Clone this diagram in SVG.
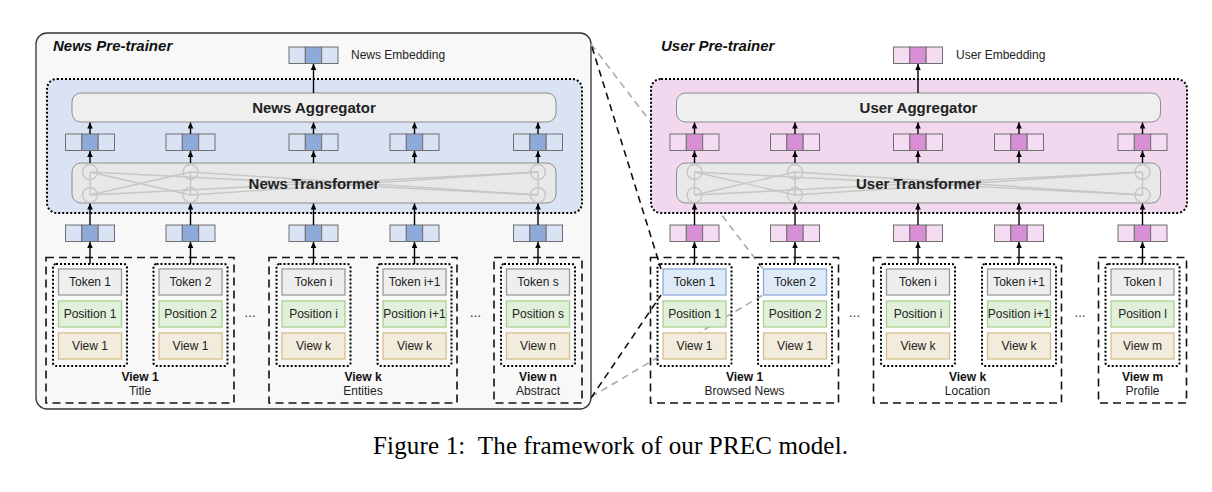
<svg xmlns="http://www.w3.org/2000/svg" xmlns:xlink="http://www.w3.org/1999/xlink" width="1212" height="492" viewBox="0 0 1212 492">
<style>
text{font-family:"Liberation Sans",Arial,sans-serif;fill:#222}
.t12{font-size:12px;text-anchor:middle}
.lab{font-size:12px}
.b15{font-size:15px;font-weight:bold;text-anchor:middle}
.ttl{font-size:15px;font-weight:bold;font-style:italic;fill:#111}
.vl{font-size:12px;font-weight:bold;text-anchor:middle;fill:#111}
.panel{fill:#f8f8f8;stroke:#333;stroke-width:1.3}
.reg{stroke:#000;stroke-width:2;stroke-dasharray:2 2}
.blue{fill:#dae3f3}
.pink{fill:#f2d8ee}
.agg{fill:#efefef;stroke:#8c8c8c;stroke-width:1}
.trans{fill:#e8e8e8;stroke:#8c8c8c;stroke-width:1}
.vb{fill:#dae3f3;stroke:#6f6f6f;stroke-width:1}
.vbm{fill:#8eaadb;stroke:#6f6f6f;stroke-width:1}
.vp{fill:#f4dcf2;stroke:#6f6f6f;stroke-width:1}
.vpm{fill:#d98fd6;stroke:#6f6f6f;stroke-width:1}
.tok{fill:#eeeeee;stroke:#9a9a9a;stroke-width:1.3}
.tokb{fill:#deebf7;stroke:#8faadc;stroke-width:1.3}
.pos{fill:#e2efda;stroke:#a9d18e;stroke-width:1.3}
.view{fill:#f2ecdc;stroke:#d6c08a;stroke-width:1.3}
.inner{fill:none;stroke:#000;stroke-width:2;stroke-dasharray:2 2}
.vbox{fill:none;stroke:#111;stroke-width:1.6;stroke-dasharray:8 5}
.tl{stroke:#c6c6c6;stroke-width:1.4;fill:none}
.arr{stroke:#000;stroke-width:1.4;fill:none;marker-end:url(#ah)}
.gd{stroke:#aaaaaa;stroke-width:1.6;stroke-dasharray:7 5;fill:none}
.bd{stroke:#111;stroke-width:1.6;stroke-dasharray:7 5;fill:none}
</style>
<defs>
<marker id="ah" markerUnits="userSpaceOnUse" markerWidth="7" markerHeight="7" refX="6" refY="3" orient="auto">
<path d="M0,0.2 L6,3 L0,5.8 z" fill="#000"/>
</marker>
<g id="vecB"><rect x="0" y="0" width="16.33" height="16.5" class="vb"/><rect x="16.33" y="0" width="16.33" height="16.5" class="vbm"/><rect x="32.67" y="0" width="16.33" height="16.5" class="vb"/></g>
<g id="vecP"><rect x="0" y="0" width="16.33" height="16.5" class="vp"/><rect x="16.33" y="0" width="16.33" height="16.5" class="vpm"/><rect x="32.67" y="0" width="16.33" height="16.5" class="vp"/></g>
</defs>
<rect width="1212" height="492" fill="#ffffff"/>

<g id="news-pretrainer-panel">
<rect x="36" y="33" width="555" height="376" rx="11" class="panel"/>
<text x="53" y="51" class="ttl">News Pre-trainer</text>
</g>

<g id="zoom-lines">
<line x1="591" y1="44" x2="763" y2="269" class="gd"/>
<line x1="591" y1="397" x2="763" y2="295" class="gd"/>
<line x1="592" y1="47" x2="661" y2="269" class="bd"/>
<line x1="591" y1="398" x2="661" y2="295" class="bd"/>
</g>

<g id="user-title"><text x="661" y="51" class="ttl">User Pre-trainer</text></g>

<g id="news-encoder-region"><rect x="47" y="79" width="535" height="134" rx="10" class="reg blue"/></g>
<g id="user-encoder-region"><rect x="651" y="79" width="536" height="134" rx="10" class="reg pink"/></g>

<g id="news-embedding">
<use xlink:href="#vecB" x="289" y="47"/>
<text x="351" y="59.3" class="lab">News Embedding</text>
</g>
<g id="user-embedding">
<use xlink:href="#vecP" x="893.5" y="47"/>
<text x="956" y="59.3" class="lab">User Embedding</text>
</g>

<g id="news-aggregator">
<rect x="72" y="93" width="484" height="29" rx="9" class="agg"/>
<text x="314" y="113.4" class="b15">News Aggregator</text>
</g>
<g id="user-aggregator">
<rect x="676.5" y="93" width="484" height="29" rx="9" class="agg"/>
<text x="918.5" y="113.4" class="b15">User Aggregator</text>
</g>

<g id="news-transformer">
<rect x="72" y="163" width="484" height="40" rx="9" class="trans"/>
<g class="tl">
<line x1="90" y1="195" x2="90" y2="172"/><line x1="190.5" y1="195" x2="190.5" y2="172"/><line x1="538" y1="195" x2="538" y2="172"/>
<line x1="90" y1="195" x2="190.5" y2="172"/><line x1="90" y1="195" x2="538" y2="172"/>
<line x1="190.5" y1="195" x2="90" y2="172"/><line x1="190.5" y1="195" x2="538" y2="172"/>
<line x1="538" y1="195" x2="90" y2="172"/><line x1="538" y1="195" x2="190.5" y2="172"/>
<circle cx="90" cy="172" r="7.5"/><circle cx="90" cy="195" r="7.5"/>
<circle cx="190.5" cy="172" r="7.5"/><circle cx="190.5" cy="195" r="7.5"/>
<circle cx="538" cy="172" r="7.5"/><circle cx="538" cy="195" r="7.5"/>
</g>
<text x="314" y="188.5" class="b15">News Transformer</text>
</g>
<g id="user-transformer">
<rect x="676.5" y="163" width="484" height="40" rx="9" class="trans"/>
<g class="tl">
<line x1="694.5" y1="195" x2="694.5" y2="172"/><line x1="795" y1="195" x2="795" y2="172"/><line x1="1142.5" y1="195" x2="1142.5" y2="172"/>
<line x1="694.5" y1="195" x2="795" y2="172"/><line x1="694.5" y1="195" x2="1142.5" y2="172"/>
<line x1="795" y1="195" x2="694.5" y2="172"/><line x1="795" y1="195" x2="1142.5" y2="172"/>
<line x1="1142.5" y1="195" x2="694.5" y2="172"/><line x1="1142.5" y1="195" x2="795" y2="172"/>
<circle cx="694.5" cy="172" r="7.5"/><circle cx="694.5" cy="195" r="7.5"/>
<circle cx="795" cy="172" r="7.5"/><circle cx="795" cy="195" r="7.5"/>
<circle cx="1142.5" cy="172" r="7.5"/><circle cx="1142.5" cy="195" r="7.5"/>
</g>
<text x="918.5" y="188.5" class="b15">User Transformer</text>
</g>

<g id="news-hidden-vectors">
<use xlink:href="#vecB" x="65.5" y="134"/><use xlink:href="#vecB" x="166" y="134"/><use xlink:href="#vecB" x="289" y="134"/><use xlink:href="#vecB" x="390" y="134"/><use xlink:href="#vecB" x="513.5" y="134"/>
</g>
<g id="news-input-vectors">
<use xlink:href="#vecB" x="65.5" y="225"/><use xlink:href="#vecB" x="166" y="225"/><use xlink:href="#vecB" x="289" y="225"/><use xlink:href="#vecB" x="390" y="225"/><use xlink:href="#vecB" x="513.5" y="225"/>
</g>
<g id="user-hidden-vectors">
<use xlink:href="#vecP" x="670" y="134"/><use xlink:href="#vecP" x="770.5" y="134"/><use xlink:href="#vecP" x="893.5" y="134"/><use xlink:href="#vecP" x="994.5" y="134"/><use xlink:href="#vecP" x="1118" y="134"/>
</g>
<g id="user-input-vectors">
<use xlink:href="#vecP" x="670" y="225"/><use xlink:href="#vecP" x="770.5" y="225"/><use xlink:href="#vecP" x="893.5" y="225"/><use xlink:href="#vecP" x="994.5" y="225"/><use xlink:href="#vecP" x="1118" y="225"/>
</g>

<g id="news-view1">
<rect x="46" y="257.5" width="188" height="145.5" class="vbox"/>
<text x="140" y="381" class="vl">View 1</text><text x="140" y="394.5" class="t12">Title</text>
</g>
<g id="news-viewk">
<rect x="269" y="257.5" width="188" height="145.5" class="vbox"/>
<text x="363" y="381" class="vl">View k</text><text x="363" y="394.5" class="t12">Entities</text>
</g>
<g id="news-viewn">
<rect x="494" y="257.5" width="88" height="145.5" class="vbox"/>
<text x="538" y="381" class="vl">View n</text><text x="538" y="394.5" class="t12">Abstract</text>
</g>
<g id="news-dots"><text x="250" y="317" class="t12">…</text><text x="475.5" y="317" class="t12">…</text></g>

<g id="news-token-1">
<rect x="53" y="264" width="74" height="102" rx="3" class="inner"/>
<rect x="58.5" y="269" width="63" height="26" class="tok"/><text x="90" y="286.3" class="t12">Token 1</text>
<rect x="58.5" y="301" width="63" height="26" class="pos"/><text x="90" y="318.3" class="t12">Position 1</text>
<rect x="58.5" y="333" width="63" height="26" class="view"/><text x="90" y="350.3" class="t12">View 1</text>
</g>
<g id="news-token-2">
<rect x="153.5" y="264" width="74" height="102" rx="3" class="inner"/>
<rect x="159" y="269" width="63" height="26" class="tok"/><text x="190.5" y="286.3" class="t12">Token 2</text>
<rect x="159" y="301" width="63" height="26" class="pos"/><text x="190.5" y="318.3" class="t12">Position 2</text>
<rect x="159" y="333" width="63" height="26" class="view"/><text x="190.5" y="350.3" class="t12">View 1</text>
</g>
<g id="news-token-i">
<rect x="276.5" y="264" width="74" height="102" rx="3" class="inner"/>
<rect x="282" y="269" width="63" height="26" class="tok"/><text x="313.5" y="286.3" class="t12">Token i</text>
<rect x="282" y="301" width="63" height="26" class="pos"/><text x="313.5" y="318.3" class="t12">Position i</text>
<rect x="282" y="333" width="63" height="26" class="view"/><text x="313.5" y="350.3" class="t12">View k</text>
</g>
<g id="news-token-i1">
<rect x="377.5" y="264" width="74" height="102" rx="3" class="inner"/>
<rect x="383" y="269" width="63" height="26" class="tok"/><text x="414.5" y="286.3" class="t12">Token i+1</text>
<rect x="383" y="301" width="63" height="26" class="pos"/><text x="414.5" y="318.3" class="t12">Position i+1</text>
<rect x="383" y="333" width="63" height="26" class="view"/><text x="414.5" y="350.3" class="t12">View k</text>
</g>
<g id="news-token-s">
<rect x="501" y="264" width="74" height="102" rx="3" class="inner"/>
<rect x="506.5" y="269" width="63" height="26" class="tok"/><text x="538" y="286.3" class="t12">Token s</text>
<rect x="506.5" y="301" width="63" height="26" class="pos"/><text x="538" y="318.3" class="t12">Position s</text>
<rect x="506.5" y="333" width="63" height="26" class="view"/><text x="538" y="350.3" class="t12">View n</text>
</g>

<g id="user-view1">
<rect x="650.5" y="257.5" width="188" height="145.5" class="vbox"/>
<text x="744.5" y="381" class="vl">View 1</text><text x="744.5" y="394.5" class="t12">Browsed News</text>
</g>
<g id="user-viewk">
<rect x="873.5" y="257.5" width="188" height="145.5" class="vbox"/>
<text x="967.5" y="381" class="vl">View k</text><text x="967.5" y="394.5" class="t12">Location</text>
</g>
<g id="user-viewm">
<rect x="1098.5" y="257.5" width="88" height="145.5" class="vbox"/>
<text x="1142.5" y="381" class="vl">View m</text><text x="1142.5" y="394.5" class="t12">Profile</text>
</g>
<g id="user-dots"><text x="854.5" y="317" class="t12">…</text><text x="1080" y="317" class="t12">…</text></g>

<g id="user-token-1">
<rect x="657.5" y="264" width="74" height="102" rx="3" class="inner"/>
<rect x="663" y="269" width="63" height="26" class="tokb"/><text x="694.5" y="286.3" class="t12">Token 1</text>
<rect x="663" y="301" width="63" height="26" class="pos"/><text x="694.5" y="318.3" class="t12">Position 1</text>
<rect x="663" y="333" width="63" height="26" class="view"/><text x="694.5" y="350.3" class="t12">View 1</text>
</g>
<g id="user-token-2">
<rect x="758" y="264" width="74" height="102" rx="3" class="inner"/>
<rect x="763.5" y="269" width="63" height="26" class="tokb"/><text x="795" y="286.3" class="t12">Token 2</text>
<rect x="763.5" y="301" width="63" height="26" class="pos"/><text x="795" y="318.3" class="t12">Position 2</text>
<rect x="763.5" y="333" width="63" height="26" class="view"/><text x="795" y="350.3" class="t12">View 1</text>
</g>
<g id="user-token-i">
<rect x="881" y="264" width="74" height="102" rx="3" class="inner"/>
<rect x="886.5" y="269" width="63" height="26" class="tok"/><text x="918" y="286.3" class="t12">Token i</text>
<rect x="886.5" y="301" width="63" height="26" class="pos"/><text x="918" y="318.3" class="t12">Position i</text>
<rect x="886.5" y="333" width="63" height="26" class="view"/><text x="918" y="350.3" class="t12">View k</text>
</g>
<g id="user-token-i1">
<rect x="982" y="264" width="74" height="102" rx="3" class="inner"/>
<rect x="987.5" y="269" width="63" height="26" class="tok"/><text x="1019" y="286.3" class="t12">Token i+1</text>
<rect x="987.5" y="301" width="63" height="26" class="pos"/><text x="1019" y="318.3" class="t12">Position i+1</text>
<rect x="987.5" y="333" width="63" height="26" class="view"/><text x="1019" y="350.3" class="t12">View k</text>
</g>
<g id="user-token-l">
<rect x="1105.5" y="264" width="74" height="102" rx="3" class="inner"/>
<rect x="1111" y="269" width="63" height="26" class="tok"/><text x="1142.5" y="286.3" class="t12">Token l</text>
<rect x="1111" y="301" width="63" height="26" class="pos"/><text x="1142.5" y="318.3" class="t12">Position l</text>
<rect x="1111" y="333" width="63" height="26" class="view"/><text x="1142.5" y="350.3" class="t12">View m</text>
</g>

<g id="arrows">
<line x1="313.5" y1="93" x2="313.5" y2="64" class="arr"/>
<line x1="918" y1="93" x2="918" y2="64" class="arr"/>
<line x1="90" y1="264" x2="90" y2="242" class="arr"/><line x1="90" y1="225" x2="90" y2="203.5" class="arr"/><line x1="90" y1="163" x2="90" y2="151" class="arr"/><line x1="90" y1="134" x2="90" y2="122.5" class="arr"/>
<line x1="190.5" y1="264" x2="190.5" y2="242" class="arr"/><line x1="190.5" y1="225" x2="190.5" y2="203.5" class="arr"/><line x1="190.5" y1="163" x2="190.5" y2="151" class="arr"/><line x1="190.5" y1="134" x2="190.5" y2="122.5" class="arr"/>
<line x1="313.5" y1="264" x2="313.5" y2="242" class="arr"/><line x1="313.5" y1="225" x2="313.5" y2="203.5" class="arr"/><line x1="313.5" y1="163" x2="313.5" y2="151" class="arr"/><line x1="313.5" y1="134" x2="313.5" y2="122.5" class="arr"/>
<line x1="414.5" y1="264" x2="414.5" y2="242" class="arr"/><line x1="414.5" y1="225" x2="414.5" y2="203.5" class="arr"/><line x1="414.5" y1="163" x2="414.5" y2="151" class="arr"/><line x1="414.5" y1="134" x2="414.5" y2="122.5" class="arr"/>
<line x1="538" y1="264" x2="538" y2="242" class="arr"/><line x1="538" y1="225" x2="538" y2="203.5" class="arr"/><line x1="538" y1="163" x2="538" y2="151" class="arr"/><line x1="538" y1="134" x2="538" y2="122.5" class="arr"/>
<line x1="694.5" y1="264" x2="694.5" y2="242" class="arr"/><line x1="694.5" y1="225" x2="694.5" y2="203.5" class="arr"/><line x1="694.5" y1="163" x2="694.5" y2="151" class="arr"/><line x1="694.5" y1="134" x2="694.5" y2="122.5" class="arr"/>
<line x1="795" y1="264" x2="795" y2="242" class="arr"/><line x1="795" y1="225" x2="795" y2="203.5" class="arr"/><line x1="795" y1="163" x2="795" y2="151" class="arr"/><line x1="795" y1="134" x2="795" y2="122.5" class="arr"/>
<line x1="918" y1="264" x2="918" y2="242" class="arr"/><line x1="918" y1="225" x2="918" y2="203.5" class="arr"/><line x1="918" y1="163" x2="918" y2="151" class="arr"/><line x1="918" y1="134" x2="918" y2="122.5" class="arr"/>
<line x1="1019" y1="264" x2="1019" y2="242" class="arr"/><line x1="1019" y1="225" x2="1019" y2="203.5" class="arr"/><line x1="1019" y1="163" x2="1019" y2="151" class="arr"/><line x1="1019" y1="134" x2="1019" y2="122.5" class="arr"/>
<line x1="1142.5" y1="264" x2="1142.5" y2="242" class="arr"/><line x1="1142.5" y1="225" x2="1142.5" y2="203.5" class="arr"/><line x1="1142.5" y1="163" x2="1142.5" y2="151" class="arr"/><line x1="1142.5" y1="134" x2="1142.5" y2="122.5" class="arr"/>
</g>

<g id="caption">
<text x="373" y="454" xml:space="preserve" textLength="475" lengthAdjust="spacing" style="font-family:'Liberation Serif','Times New Roman',serif;font-size:25px;fill:#000">Figure 1:  The framework of our PREC model.</text>
</g>
</svg>
